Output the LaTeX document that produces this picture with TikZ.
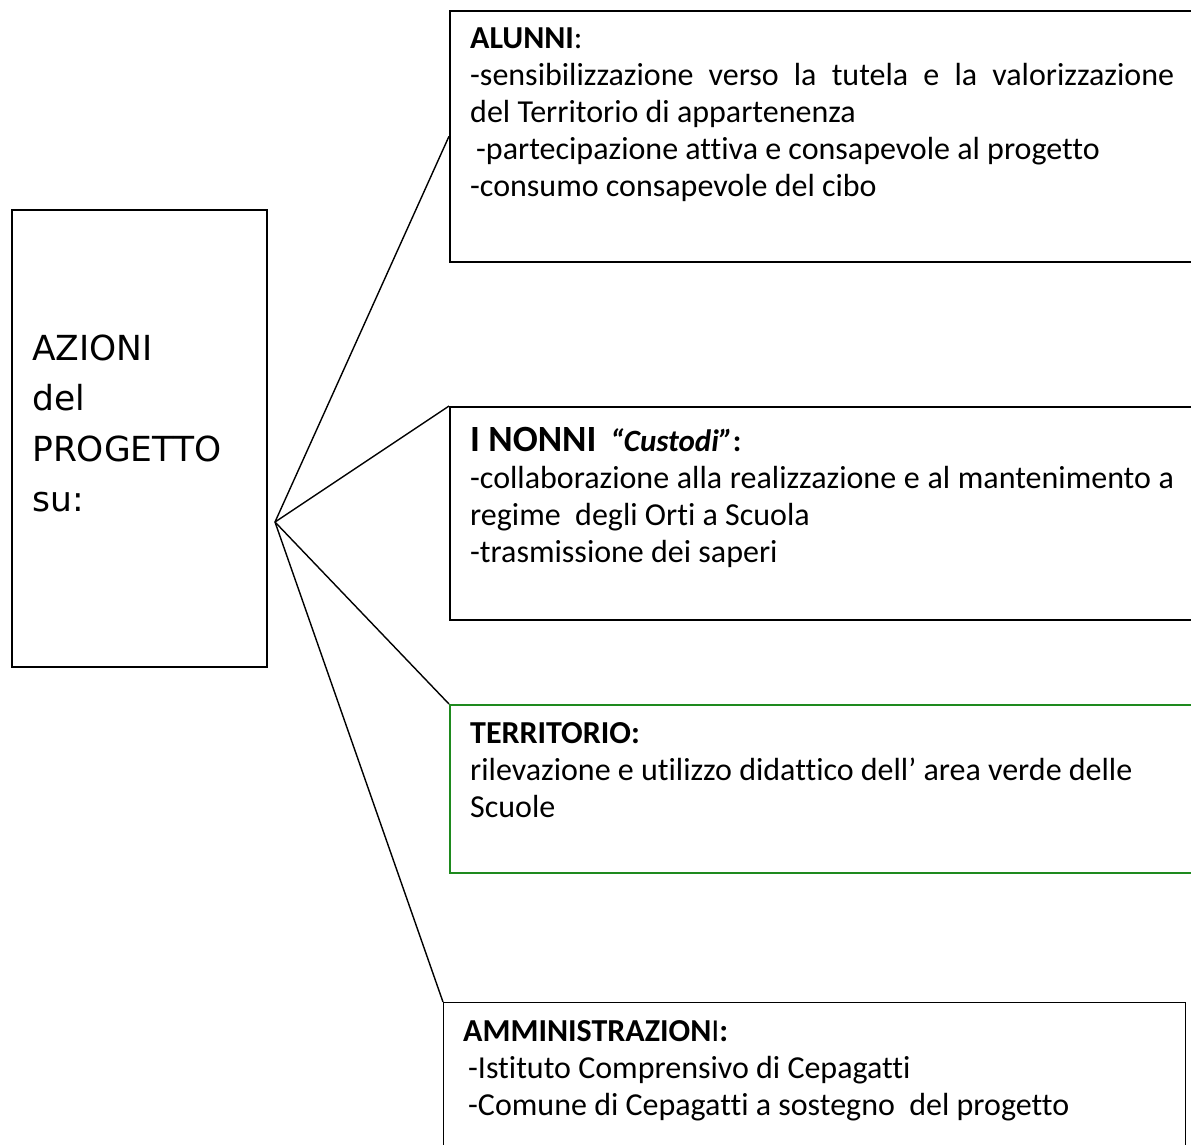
\documentclass[tikz,border=0pt]{standalone}
\usepackage{fontspec}
\setmainfont[Ligatures=NoCommon]{Carlito}
\newfontfamily\titolofont{DejaVu Sans}
\usetikzlibrary{arrows.meta}
\definecolor{bordoverde}{HTML}{1E8A1E}

\tikzset{
  riquadro/.style={draw, line width=1.6pt, inner sep=0pt, anchor=north west},
  testo/.style={anchor=base west, inner sep=0pt, text width=704pt, align=justify,
    font=\fontsize{32}{37}\selectfont},
  ramo/.style={line width=1.4pt}
}

\begin{document}
\begin{tikzpicture}[x=1pt,y=-1pt]
  \useasboundingbox (0,0) rectangle (1191,1144);
  % riquadro di sinistra
  \node[riquadro, minimum width=255pt, minimum height=457pt] (azioni) at (11,209) {};
  \node[anchor=base west, inner sep=0pt, text width=230pt, align=left,
    font=\titolofont\fontsize{34.5}{50.5}\selectfont] (azionitesto) at (32,360)
    {AZIONI\\del\\PROGETTO\\su:};
  % riquadri di destra
  \node[riquadro, minimum width=760pt, minimum height=251pt] (alunni) at (449,10) {};
  \node[testo] (alunnitesto) at (470,48)
    {\textbf{ALUNNI}:\\
     -sensibilizzazione verso la tutela e la valorizzazione\linebreak
     del Territorio di appartenenza\\
     \hspace*{6pt}-partecipazione attiva e consapevole al progetto\\
     -consumo consapevole del cibo};
  \node[riquadro, minimum width=760pt, minimum height=213pt] (nonni) at (449,406) {};
  \node[testo] (nonnitesto) at (470,451)
    {{\fontsize{37}{37}\selectfont\textbf{I NONNI}}\hspace{14pt}{\fontsize{31}{37}\selectfont\textbf{\textit{“Custodi”}:}}\\
     -collaborazione alla realizzazione e al mantenimento a\linebreak
     regime\ \ degli Orti a Scuola\\
     -trasmissione dei saperi};
  \node[riquadro, draw=bordoverde, minimum width=760pt, minimum height=168pt] (territorio) at (449,704) {};
  \node[testo] (territoriotesto) at (470,743)
    {\textbf{TERRITORIO:}\\
     rilevazione e utilizzo didattico dell’ area verde delle\\
     Scuole};
  \node[riquadro, line width=1.3pt, minimum width=742pt, minimum height=170pt] (amministrazioni) at (443,1002) {};
  \node[testo] (amministrazionitesto) at (463,1041)
    {\textbf{AMMINISTRAZION}I\textbf{:}\\
     \hspace*{5pt}-Istituto Comprensivo di Cepagatti\\
     \hspace*{5pt}-Comune di Cepagatti a sostegno\ \ del progetto};
  % rami
  \coordinate (hub) at (275,522);
  \foreach \b/\a in {alunni/west, nonni/north west, territorio/north west, amministrazioni/north west}
    \draw[ramo] (hub) -- (\b.\a);
\end{tikzpicture}
\end{document}
